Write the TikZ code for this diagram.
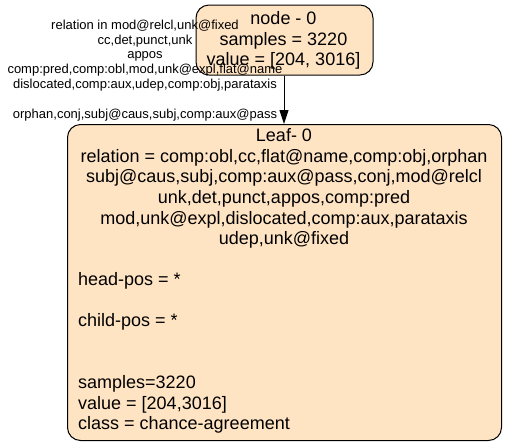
\documentclass[tikz,border=0pt]{standalone}
\usepackage{fontspec}
\setmainfont{Liberation Sans}
\usetikzlibrary{arrows.meta}
\definecolor{bisque}{HTML}{FFE4C4}
\tikzset{
  treebox/.style={draw=black, line width=1pt, fill=bisque, rounded corners=13pt, inner sep=0pt},
  boxtext/.style={font=\fontsize{18}{20.6}\selectfont, inner sep=0pt},
  edgetext/.style={font=\fontsize{13}{14.9}\selectfont, inner sep=0pt, align=center},
  edgearrow/.style={line width=1pt, -{Triangle[length=14pt,width=9pt]}}
}
\begin{document}
\begin{tikzpicture}[x=1pt,y=-1pt]
\useasboundingbox (0,0) rectangle (506,445);
% top node
\node[treebox, minimum width=177pt, minimum height=70pt] (root) at (284.5,40) {};
\node[boxtext, align=center] (roottext) at (283.5,40.5) {node - 0\\samples = 3220\\value = [204, 3016]};
% leaf
\node[treebox, minimum width=434pt, minimum height=316pt] (leaf) at (284.5,282.5) {};
\node[boxtext, align=center] (leaftop) at (284,188.5) {Leaf- 0\\relation = comp:obl,cc,flat@name,comp:obj,orphan\\subj@caus,subj,comp:aux@pass,conj,mod@relcl\\unk,det,punct,appos,comp:pred\\mod,unk@expl,dislocated,comp:aux,parataxis\\udep,unk@fixed};
\node[boxtext, align=left, anchor=west] (leafbottom) at (78,353) {head-pos = *\\\mbox{}\\child-pos = *\\\mbox{}\\\mbox{}\\samples=3220\\value = [204,3016]\\class = chance-agreement};
% edge
\draw[edgearrow] (root.south -| 284,0) -- (leaf.north -| 284,0);
\node[edgetext] (edgelabel) at (145,70.5) {relation in mod@relcl,unk@fixed\\cc,det,punct,unk\\appos\\comp:pred,comp:obl,mod,unk@expl,flat@name\\dislocated,comp:aux,udep,comp:obj,parataxis\\\mbox{}\\orphan,conj,subj@caus,subj,comp:aux@pass};
\end{tikzpicture}
\end{document}
